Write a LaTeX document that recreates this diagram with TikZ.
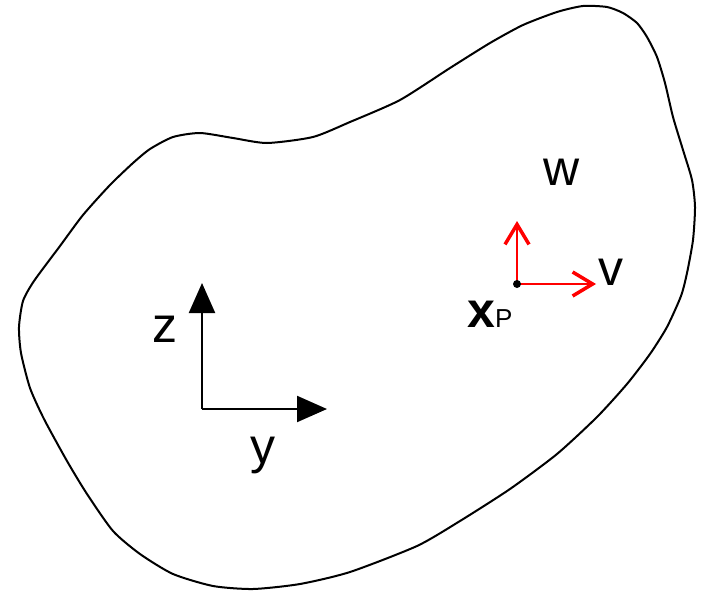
\documentclass[tikz,border=0pt]{standalone}
\usepackage{fontspec}
\setmainfont{Liberation Sans}
\usetikzlibrary{arrows.meta}
\begin{document}
\begin{tikzpicture}[x=1pt,y=-1pt,
  lbl/.style={inner sep=0pt,anchor=base,font=\fontsize{50}{60}\selectfont},
  blackarrow/.style={line width=2.2pt,-{Triangle[length=30pt,width=26pt]}},
  redarrow/.style={red,line width=2.2pt,-{Straight Barb[length=20pt,width=24pt,line width=3.5pt]}}]
\useasboundingbox (0,0) rectangle (701,594);
\draw[line width=2pt] plot[smooth cycle,tension=0.4] coordinates {
(583,6) (607,7) (623,13) (637,23) (647,37) (657,57) (665,83) (673,117) (683,150)
(692,180) (695,207) (693,240) (687,273) (681,296) (667,327) (650,354) (627,384)
(597,417) (557,454) (510,489) (460,521) (417,546) (350,572) (300,584) (253,589)
(213,586) (173,574) (140,554) (113,531) (87,494) (67,461) (44,419) (30,388)
(21,353) (19,327) (23,301) (34,281) (60,246) (83,215) (110,185) (133,163)
(150,149) (173,137) (200,133) (233,138) (267,143) (313,137) (350,122) (400,100)
(450,68) (490,43) (523,25) (557,12)};
% black axes
\coordinate (O) at (202,409);
\coordinate (Ztip) at (202,283);
\coordinate (Ytip) at (327,409);
\draw[blackarrow] (O) -- (Ztip);
\draw[blackarrow] (O) -- (Ytip);
\node[lbl] (zl) at (165,342) {z};
\node[lbl] (yl) at (263,463) {y};
% red local axes
\coordinate (P) at (517,284);
\coordinate (Wtip) at (517,221);
\coordinate (Vtip) at (596,284);
\draw[redarrow] (P) -- (Wtip);
\draw[redarrow] (P) -- (Vtip);
\fill (P) circle (4pt);
\node[lbl] (wl) at (562,185) {w};
\node[lbl] (vl) at (611,285) {v};
\node[inner sep=0pt,anchor=base west,font=\fontsize{50}{60}\selectfont] (xp) at (467,327) {\bfseries x\fontsize{26}{30}\mdseries\selectfont P};
\end{tikzpicture}
\end{document}
